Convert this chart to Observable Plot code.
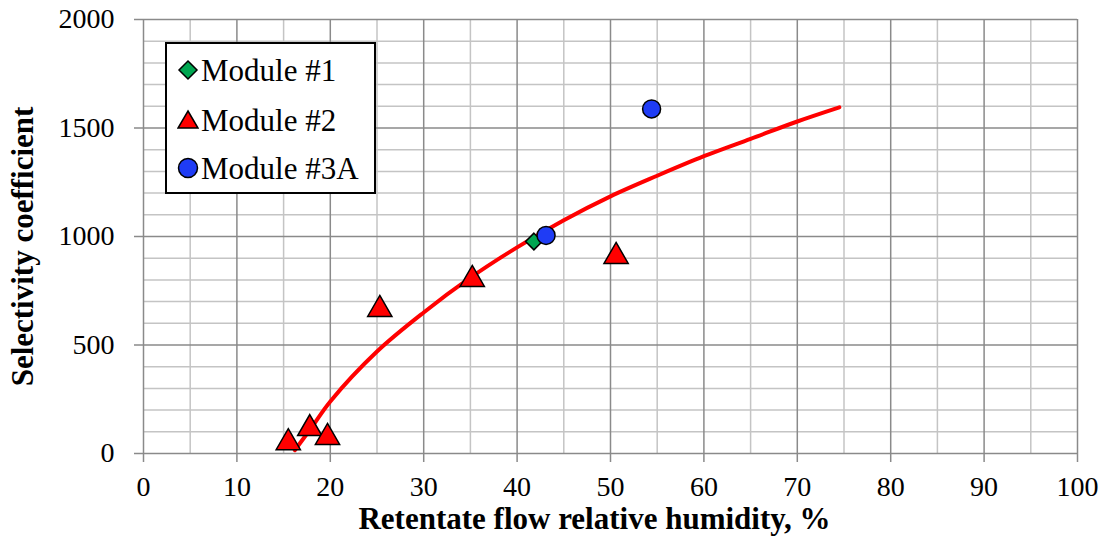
<!DOCTYPE html>
<html>
<head>
<meta charset="utf-8">
<script src="https://cdn.jsdelivr.net/npm/d3@7"></script>
<script src="https://cdn.jsdelivr.net/npm/@observablehq/plot@0.6"></script>
<style>
  html, body { margin: 0; padding: 0; background: #fff; }
  #chart { position: relative; width: 1107px; height: 546px; font-family: "Liberation Serif", "Times New Roman", serif; }
  #chart svg, #chart svg text { font-family: "Liberation Serif", "Times New Roman", serif !important; }
  #legend {
    position: absolute; left: 165px; top: 42px; width: 207px; height: 148px;
    border: 2px solid #000; background: #fff; box-sizing: content-box;
  }
  #legend .row { position: absolute; left: 0; display: flex; align-items: center; height: 40px; }
  #legend .row span { font-size: 31px; color: #000; margin-left: 2px; line-height: 1; white-space: nowrap; }
  #legend svg { display: block; margin-left: 10px; }
</style>
</head>
<body>
<div id="chart"></div>
<script>
// Module #1
const m1X = [41.8];
const m1Y = [977];
// Module #2
const m2X = [15.5, 17.8, 19.7, 25.3, 35.2, 50.6];
const m2Y = [50, 115, 74, 664, 802, 908];
// Module #3A
const m3X = [43.1, 54.4];
const m3Y = [1005, 1588];
// Logarithmic trend line
const fitX = [16.2, 18, 20, 25, 30, 35, 40, 45, 50, 55, 60, 65, 70, 74.5];
const fitY = [15, 120, 240, 470, 650, 810, 950, 1075, 1185, 1280, 1370, 1450, 1530, 1595];

const xTicks = d3.range(0, 101, 10);
const yTicks = d3.range(0, 2001, 500);
const xMinor = d3.range(5, 101, 10);
const yMinor = d3.range(0, 2001, 100).filter(v => v % 500 !== 0);

const legendItems = ["Module #1", "Module #2", "Module #3A"];

const toPts = (xs, ys) => xs.map((x, i) => ({x, y: ys[i]}));

const font = "Liberation Serif, Times New Roman, serif";
const light = "#c4c4c4";
const dark = "#8a8a8a";

const plot = Plot.plot({
  width: 1107,
  height: 546,
  marginLeft: 143,
  marginRight: 30,
  marginTop: 19,
  marginBottom: 93,
  style: { fontFamily: font, fontSize: "28px", color: "#000", background: "#fff" },
  x: { domain: [0, 100] },
  y: { domain: [0, 2000] },
  marks: [
    Plot.ruleX(xMinor, { stroke: light, strokeWidth: 1.5 }),
    Plot.ruleY(yMinor, { stroke: light, strokeWidth: 1.5 }),
    Plot.ruleX(xTicks, { stroke: dark, strokeWidth: 1.5 }),
    Plot.ruleY(yTicks, { stroke: dark, strokeWidth: 1.5 }),
    Plot.axisX({ ticks: xTicks, tickSize: 9, tickPadding: 14, stroke: dark, strokeWidth: 1.5, fontSize: 28, label: null, tickFormat: d3.format("d") }),
    Plot.axisY({ ticks: yTicks, tickSize: 9, tickPadding: 20, stroke: dark, strokeWidth: 1.5, fontSize: 28, label: null, tickFormat: d3.format("d") }),
    Plot.line(toPts(fitX, fitY), { x: "x", y: "y", stroke: "#ff0000", strokeWidth: 4, curve: "catmull-rom" }),
    Plot.dot(toPts(m2X, m2Y), { x: "x", y: "y", symbol: "triangle", r: 9, fill: "#ff0000", stroke: "#000", strokeWidth: 1.5 }),
    Plot.dot(toPts(m1X, m1Y), { x: "x", y: "y", symbol: "diamond2", r: 7.5, fill: "#00a651", stroke: "#000", strokeWidth: 1.5 }),
    Plot.dot(toPts(m3X, m3Y), { x: "x", y: "y", symbol: "circle", r: 9, fill: "#1f3cf5", stroke: "#000", strokeWidth: 1.5 }),
    Plot.text(["Retentate flow relative humidity, %"], { frameAnchor: "bottom", dx: -16, dy: 75, fontSize: 31, fontWeight: "bold", fill: "#000" }),
    Plot.text(["Selectivity coefficient"], { frameAnchor: "left", textAnchor: "middle", dx: -120, dy: 10, rotate: -90, fontSize: 31, fontWeight: "bold", fill: "#000" })
  ]
});

const chart = document.getElementById("chart");
chart.appendChild(plot);

// Legend box drawn over the upper-left of the plot area
const legend = document.createElement("div");
legend.id = "legend";
const symbols = [
  `<svg width="22" height="22" viewBox="-11 -11 22 22"><path d="M0,-9L9,0L0,9L-9,0Z" fill="#00a651" stroke="#000" stroke-width="1.5"/></svg>`,
  `<svg width="22" height="22" viewBox="-11 -11 22 22"><path d="M0,-9L10,8L-10,8Z" fill="#ff0000" stroke="#000" stroke-width="1.5"/></svg>`,
  `<svg width="22" height="22" viewBox="-11 -11 22 22"><circle r="9.5" fill="#1f3cf5" stroke="#000" stroke-width="1.5"/></svg>`
];
const rowTops = [6, 56, 104];
legendItems.forEach((name, i) => {
  const row = document.createElement("div");
  row.className = "row";
  row.style.top = rowTops[i] + "px";
  row.innerHTML = symbols[i] + `<span>${name}</span>`;
  legend.appendChild(row);
});
chart.appendChild(legend);
</script>
</body>
</html>
